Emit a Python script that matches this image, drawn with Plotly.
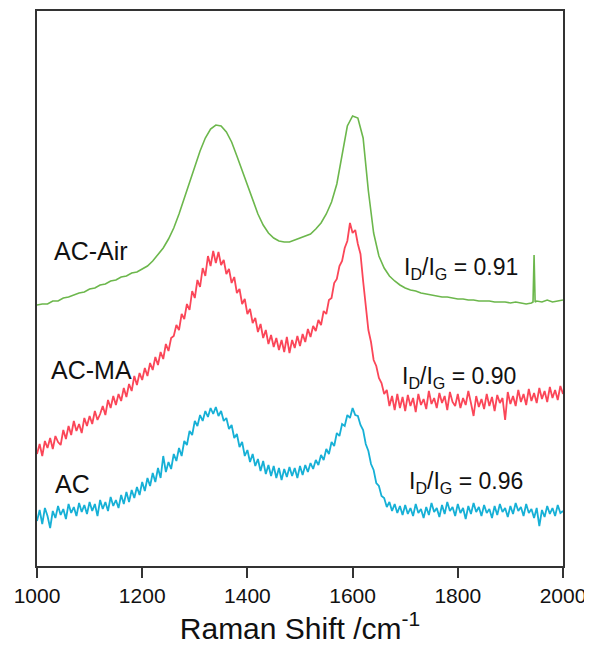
import plotly.graph_objects as go

# ---------------- data (intensity in arbitrary units) ----------------
shift_5 = list(range(1000, 2001, 5))

air_shift = list(range(1000, 1941, 10)) + [1943, 1945, 1947] + list(range(1950, 2001, 10))
air_int = [261, 262, 262, 265, 265, 268, 269, 271, 273, 274,
           277, 278, 281, 282, 285, 286, 289, 290, 293, 294,
           297, 300, 305, 311, 318, 327, 338, 352, 368, 384,
           400, 415, 428, 437, 441, 440, 434, 424, 410, 395,
           380, 365, 352, 341, 333, 328, 325, 324, 324, 326,
           328, 330, 332, 337, 343, 352, 364, 382, 410, 440,
           450, 448, 428, 375, 333, 310, 298, 290, 285, 281,
           278, 276, 275, 273, 272, 271, 270, 269, 269, 268,
           267, 267, 266, 266, 265, 265, 265, 264, 264, 264,
           263, 264, 263, 262, 263,
           264, 311, 264,
           265, 264, 266, 264, 265, 266]

ma_int = [112, 122, 110, 125, 118, 128, 117, 130, 124, 121,
          136, 127, 140, 131, 145, 135, 142, 133, 148, 140,
          150, 142, 155, 146, 152, 160, 151, 166, 158, 170,
          161, 172, 165, 178, 169, 182, 175, 190, 181, 193,
          186, 198, 190, 203, 196, 209, 201, 214, 207, 222,
          215, 228, 230, 241, 236, 252, 247, 262, 256, 275,
          268, 286, 279, 298, 290, 310, 300, 315, 303, 314,
          301, 306, 292, 297, 283, 289, 273, 277, 262, 267,
          252, 257, 243, 248, 234, 242, 228, 236, 222, 231,
          219, 228, 216, 226, 214, 229, 213, 226, 218, 230,
          220, 232, 224, 237, 229, 240, 235, 246, 241, 255,
          252, 266, 268, 283, 287, 300, 305, 318, 325, 343,
          333, 336, 322, 312, 285, 262, 236, 224, 206, 200,
          188, 183, 172, 176, 160, 170, 156, 172, 158, 169,
          155, 171, 160, 168, 154, 172, 161, 167, 157, 175,
          162, 168, 158, 173, 163, 170, 156, 174, 164, 160,
          172, 158, 168, 161, 175, 163, 150, 170, 159, 167,
          157, 172, 160, 169, 155, 171, 163, 168, 146, 174,
          162, 170, 160, 176, 164, 172, 161, 177, 165, 173,
          163, 178, 167, 175, 164, 179, 168, 176, 166, 180,
          172]

ac_int = [45, 56, 42, 58, 50, 38, 55, 48, 60, 51,
          57, 47, 62, 53, 59, 50, 63, 54, 61, 52,
          64, 55, 62, 50, 66, 57, 64, 55, 69, 60,
          66, 58, 71, 62, 74, 64, 76, 68, 79, 71,
          84, 75, 88, 80, 93, 84, 98, 88, 110, 94,
          104, 97, 112, 105, 118, 110, 125, 121, 135, 131,
          145, 140, 151, 145, 155, 149, 158, 152, 159, 150,
          155, 145, 148, 137, 141, 128, 132, 119, 124, 110,
          116, 104, 112, 100, 107, 95, 105, 92, 101, 90,
          100, 88, 98, 86, 97, 89, 99, 90, 98, 88,
          100, 91, 101, 94, 103, 97, 106, 101, 111, 106,
          117, 112, 124, 120, 133, 130, 142, 140, 151, 148,
          158, 151, 150, 141, 136, 122, 115, 102, 96, 83,
          80, 70, 68, 59, 64, 55, 62, 53, 60, 51,
          61, 52, 58, 50, 62, 53, 57, 48, 59, 51,
          63, 54, 58, 49, 61, 52, 64, 55, 59, 50,
          62, 53, 58, 47, 60, 52, 63, 54, 59, 50,
          61, 53, 57, 48, 60, 51, 62, 54, 58, 49,
          60, 52, 63, 55, 59, 50, 62, 53, 57, 48,
          58, 40, 56, 49, 60, 52, 58, 50, 61, 53,
          55]

labels = ["AC-Air", "AC-MA", "AC"]
ratios = ["0.91", "0.90", "0.96"]

# ---------------- figure ----------------
fig = go.Figure()
fig.add_trace(go.Scatter(x=air_shift, y=air_int, mode="lines",
                         line=dict(color="#6cb74c", width=1.6), name=labels[0]))
fig.add_trace(go.Scatter(x=shift_5, y=ma_int, mode="lines",
                         line=dict(color="#fb4658", width=1.8), name=labels[1]))
fig.add_trace(go.Scatter(x=shift_5, y=ac_int, mode="lines",
                         line=dict(color="#16b0d6", width=1.8), name=labels[2]))

font_family = "Liberation Sans, Arial, sans-serif"

lab_pos = [(1103, 315), (1103, 196), (1067, 82)]
for t, (x, y) in zip(labels, lab_pos):
    fig.add_annotation(x=x, y=y, xref="x", yref="y", text=t, showarrow=False,
                       font=dict(size=25, color="#111", family=font_family),
                       xanchor="center", yanchor="middle")

ratio_pos = [(1694, 298), (1690, 189), (1703, 84)]
for r, (x, y) in zip(ratios, ratio_pos):
    fig.add_annotation(x=x, y=y, xref="x", yref="y",
                       text=f"I<sub>D</sub>/I<sub>G</sub> = {r}", showarrow=False,
                       font=dict(size=23, color="#111", family=font_family),
                       xanchor="left", yanchor="middle")

fig.update_layout(
    width=584, height=639,
    margin=dict(l=29, r=29, t=3, b=81),
    paper_bgcolor="white", plot_bgcolor="white",
    showlegend=False,
    font=dict(family=font_family, color="#111"),
    xaxis=dict(range=[1000, 2000], dtick=200, tick0=1000, automargin=False,
               showline=True, linecolor="#333", linewidth=1.8, mirror=True,
               ticks="outside", ticklen=10, tickwidth=1.8, tickcolor="#333",
               showgrid=False, zeroline=False,
               tickfont=dict(size=21, color="#111"),
               title=dict(text="Raman Shift /cm<sup>-1</sup>",
                          font=dict(size=30, color="#111"), standoff=6)),
    yaxis=dict(range=[0, 555], showline=True, linecolor="#333", linewidth=1.8,
               mirror=True, showticklabels=False, ticks="", showgrid=False,
               zeroline=False, automargin=False),
)

fig.write_html("out.html")
